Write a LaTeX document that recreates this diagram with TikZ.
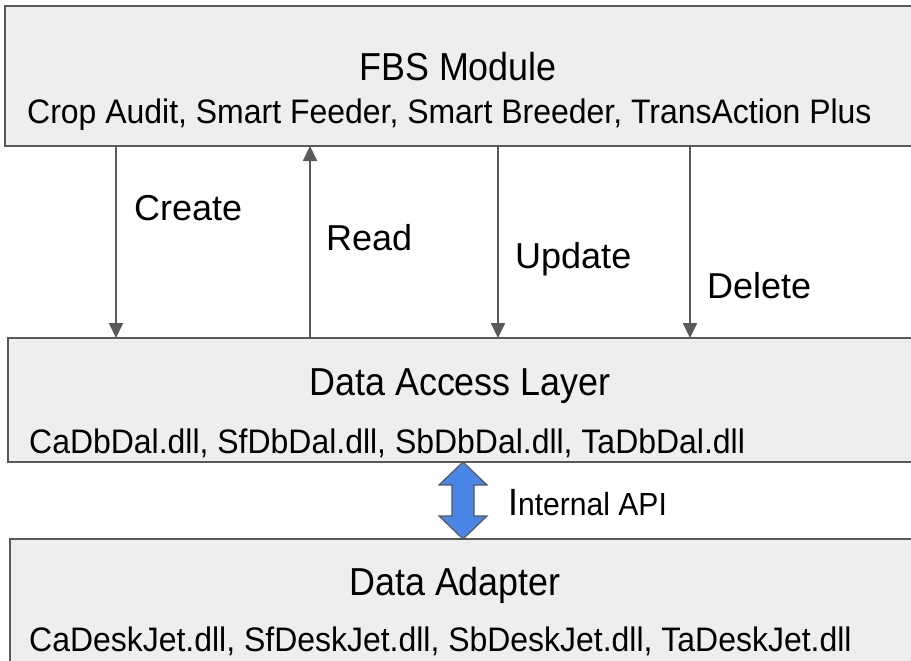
\documentclass[tikz,border=0pt]{standalone}
\usepackage{fontspec}
\setmainfont{Liberation Sans}
\usetikzlibrary{arrows.meta}
\definecolor{boxfill}{HTML}{EEEEEE}
\definecolor{lineg}{HTML}{595959}
\definecolor{apiblue}{HTML}{4A86E8}
\tikzset{
  layerbox/.style={draw=lineg, fill=boxfill, line width=2pt, rectangle, inner sep=0pt, outer sep=0pt, anchor=north west},
  titletext/.style={font=\fontsize{39}{42}\selectfont, xscale=0.92, inner sep=0pt, anchor=base},
  subtext/.style={font=\fontsize{34}{38}\selectfont, xscale=0.94, inner sep=0pt, anchor=base west},
  labtext/.style={font=\fontsize{36}{40}\selectfont, inner sep=0pt, anchor=base west},
  conn/.style={draw=lineg, line width=2pt, -{Triangle[width=14pt,length=15pt]}},
  apiarrow/.style={draw=lineg, fill=apiblue, line width=1.2pt, line join=miter}
}
\begin{document}
\begin{tikzpicture}[x=1pt,y=-1pt]
\useasboundingbox (0,0) rectangle (911,661);
\fill[white] (0,0) rectangle (911,661);
% boxes
\node[layerbox, minimum width=915pt, minimum height=140pt] (fbs) at (5,6) {};
\node[layerbox, minimum width=915pt, minimum height=124pt] (dal) at (8,338) {};
\node[layerbox, minimum width=915pt, minimum height=140pt] (ada) at (10,539) {};
% texts
\node[titletext] (t1) at (458,81) {FBS Module};
\node[subtext] (s1) at (27,124) {Crop Audit, Smart Feeder, Smart Breeder, TransAction Plus};
\node[titletext] (t2) at (460,395) {Data Access Layer};
\node[subtext] (s2) at (29,453) {CaDbDal.dll, SfDbDal.dll, SbDbDal.dll, TaDbDal.dll};
\node[titletext] (t3) at (455,595) {Data Adapter};
\node[subtext] (s3) at (29,651) {CaDeskJet.dll, SfDeskJet.dll, SbDeskJet.dll, TaDeskJet.dll};
% connectors
\coordinate (xc) at (116,0);
\coordinate (xr) at (310,0);
\coordinate (xu) at (498,0);
\coordinate (xd) at (690,0);
\draw[conn] (fbs.south -| xc) -- (dal.north -| xc);
\draw[conn] (dal.north -| xr) -- (fbs.south -| xr);
\draw[conn] (fbs.south -| xu) -- (dal.north -| xu);
\draw[conn] (fbs.south -| xd) -- (dal.north -| xd);
\node[labtext] (lc) at (134,220) {Create};
\node[labtext] (lr) at (326,250) {Read};
\node[labtext] (lu) at (515,268) {Update};
\node[labtext] (ld) at (707,298) {Delete};
% internal API double arrow
\coordinate (xa) at (463,0);
\coordinate (at) at (dal.south -| xa);
\coordinate (ab) at (ada.north -| xa);
\draw[apiarrow] (at) -- ++(24,23) -- ++(-13,0) -- ++(0,31) -- ++(13,0) -- (ab)
  -- ++(-24,-23) -- ++(13,0) -- ++(0,-31) -- ++(-13,0) -- cycle;
\node[subtext, font=\fontsize{32}{36}\selectfont, xscale=1] (lapi) at (508,515) {{\fontsize{38}{40}\selectfont I}nternal API};
\end{tikzpicture}
\end{document}
